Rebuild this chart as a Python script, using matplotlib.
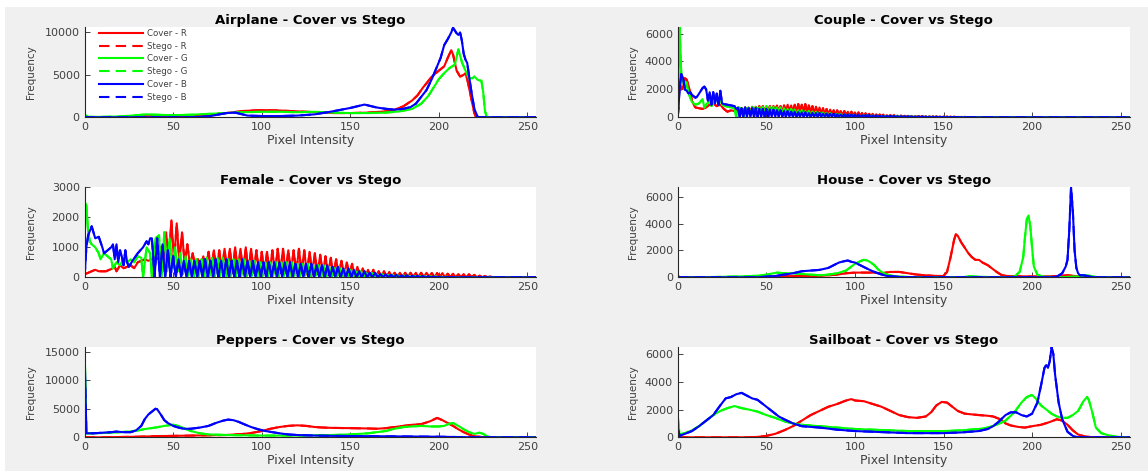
import numpy as np
import matplotlib
matplotlib.use('Agg')
import matplotlib.pyplot as plt
from matplotlib.patches import Rectangle

# ----------------------------------------------------------
# data: histogram curves as (bin, count)
# stego histograms sit on top of the cover ones at this scale
# ----------------------------------------------------------
airplane_r = [(0, 0), (20, 0), (30, 100), (40, 150), (50, 100), (60, 200), (70, 300), (80, 500), (90, 750),
              (100, 850), (110, 800), (120, 700), (130, 600), (140, 500), (150, 500), (160, 550), (170, 700),
              (175, 900), (180, 1300), (185, 2000), (188, 2600), (191, 3500), (193, 4000), (196, 4800),
              (200, 5500), (203, 6000), (205, 7000), (207, 7900), (208, 7400), (210, 5500), (212, 4800),
              (214, 5000), (215, 5200), (216, 4500), (218, 2500), (220, 500), (221, 0), (255, 0)]
airplane_g = [(0, 300), (2, 50), (10, 50), (20, 100), (30, 250), (35, 350), (40, 300), (50, 250), (60, 300),
              (70, 400), (80, 500), (90, 600), (100, 650), (110, 650), (120, 600), (130, 650), (140, 550),
              (150, 500), (160, 500), (170, 550), (178, 700), (185, 1000), (190, 1600), (194, 2500),
              (197, 3500), (200, 4500), (203, 5200), (206, 5800), (209, 6200), (211, 8000), (213, 6500),
              (215, 5500), (217, 4600), (219, 4600), (220, 4800), (222, 4400), (224, 4300), (225, 3000),
              (226, 800), (227, 0), (255, 0)]
airplane_b = [(0, 0), (60, 0), (70, 100), (75, 300), (80, 500), (85, 550), (88, 400), (92, 200), (100, 150),
              (110, 150), (120, 200), (130, 350), (140, 700), (145, 900), (150, 1100), (155, 1350),
              (158, 1500), (161, 1350), (165, 1150), (170, 1000), (175, 900), (180, 1000), (184, 1200),
              (187, 1600), (190, 2400), (193, 3200), (196, 4500), (199, 6000), (201, 7000), (203, 8500),
              (205, 9200), (207, 10000), (208, 10550), (210, 9900), (211, 9700), (212, 10000), (213, 9000),
              (214, 7500), (215, 6800), (216, 6400), (218, 3500), (220, 1000), (222, 0), (255, 0)]

couple_r_head = [(0, 0), (1, 2500), (2, 2000), (3, 2200), (4, 2800), (5, 2700), (6, 2300), (7, 1800),
                 (8, 1200), (9, 900), (10, 700), (12, 650), (14, 600), (16, 700), (18, 900), (20, 1000),
                 (22, 800), (24, 900), (26, 600), (28, 400), (30, 500), (32, 450)]
couple_r_peaks = [600, 650, 700, 700, 750, 750, 800, 800, 750, 800, 800, 850, 800, 850, 900,
                  850, 900, 950, 900, 950, 850, 800, 750, 700, 650, 600, 550, 500, 500, 450,
                  450, 400, 400, 350, 350, 300, 300, 250, 250, 200, 200, 200, 150, 150, 150,
                  120, 120, 100, 100, 100, 80, 80, 80, 70, 70, 60, 60, 50, 50, 50,
                  40, 40, 30, 30, 30, 20, 20, 20, 10, 10]
couple_r_troughs = [300, 350, 400, 400, 400, 450, 450, 450, 450, 450, 450, 450, 400, 400, 400,
                    400, 400, 400, 350, 350, 300, 300, 250, 250, 250, 200, 200, 200, 150, 150,
                    150, 120, 120, 100, 100, 100, 80, 80, 80, 60, 60, 50, 50, 40, 40,
                    40, 30, 30, 30, 20, 20, 20, 20, 10, 10, 10, 10, 10, 10, 5,
                    5, 5, 5, 5, 5, 0, 0, 0, 0, 0]
couple_g_head = [(0, 0), (1, 6450), (2, 3000), (3, 2600), (4, 2000), (5, 2500), (6, 1800), (7, 1400),
                 (8, 1100), (10, 900), (12, 1000), (14, 1300), (15, 700), (16, 900), (18, 1200), (19, 800),
                 (20, 1000), (22, 1300), (24, 1400), (25, 900), (27, 800), (30, 700), (32, 650), (33, 0),
                 (34, 700), (36, 650), (37, 0), (38, 600)]
couple_g_peaks = [700, 750, 750, 700, 750, 800, 750, 750, 700, 700, 650, 600, 600, 550, 500,
                  500, 450, 450, 400, 400, 350, 350, 300, 300, 250, 250, 250, 200, 200, 200,
                  180, 160, 150, 150, 140, 120, 120, 100, 100, 100, 90, 80, 80, 70, 70,
                  60, 60, 50, 50, 50, 40, 40, 40, 30, 30, 30, 20, 20, 20, 10,
                  10, 10, 10, 5, 5]
couple_g_troughs = [100, 200, 250, 300, 300, 300, 300, 300, 250, 250, 200, 200, 200, 150, 150,
                    150, 100, 100, 100, 100, 80, 80, 80, 60, 60, 60, 50, 50, 40, 40,
                    40, 30, 30, 30, 30, 20, 20, 20, 20, 20, 10, 10, 10, 10, 10,
                    10, 10, 10, 10, 10, 5, 5, 5, 5, 5, 5, 5, 5, 5, 0,
                    0, 0, 0, 0, 0]
couple_b_head = [(0, 0), (1, 2000), (2, 3100), (3, 2800), (4, 2000), (5, 1900), (6, 1700), (7, 1800),
                 (8, 1600), (9, 1500), (10, 1400), (11, 1500), (12, 1700), (13, 1900), (14, 2100),
                 (15, 2200), (16, 2000), (17, 1200), (18, 1800), (19, 900), (20, 1800), (21, 1000),
                 (22, 1700), (23, 900), (24, 1900), (25, 1000), (26, 950), (28, 900), (30, 850),
                 (32, 800), (33, 600)]
couple_b_peaks = [700, 650, 700, 650, 650, 650, 600, 600, 600, 550, 550, 500, 500, 450, 450,
                  400, 400, 350, 350, 350, 300, 300, 300, 300, 250, 250, 250, 250, 200, 200,
                  200, 200, 200, 180, 180, 150, 150, 150, 120, 120, 100, 100, 100, 100, 80,
                  80, 80, 60, 60, 60, 50, 50, 50, 40, 40, 40, 30, 30, 30, 20,
                  20, 20, 10, 10, 10]
couple_b_troughs = [0, 0, 0, 50, 0, 0, 50, 0, 0, 50, 50, 50, 50, 50, 50,
                    50, 50, 50, 50, 50, 40, 40, 40, 40, 40, 30, 30, 30, 30, 30,
                    20, 20, 20, 20, 20, 10, 10, 10, 10, 10, 10, 10, 10, 10, 10,
                    10, 10, 10, 10, 10, 0, 0, 0, 0, 0, 0, 0, 0, 0, 0,
                    0, 0, 0, 0, 0]

female_r_head = [(0, 100), (2, 150), (4, 200), (6, 250), (8, 200), (10, 200), (12, 200), (14, 250),
                 (16, 300), (17, 350), (18, 200), (20, 400), (22, 300), (24, 350), (26, 400), (28, 300),
                 (30, 500), (32, 550), (34, 600), (36, 550), (38, 600)]
female_r_peaks = [700, 1000, 1500, 1900, 1800, 1500, 1100, 800, 600, 700,
                  850, 900, 900, 950, 950, 1000, 950, 1000, 950, 900,
                  850, 850, 900, 950, 950, 900, 900, 950, 900, 850,
                  800, 750, 700, 650, 600, 550, 500, 450, 350, 300,
                  250, 250, 200, 200, 180, 150, 150, 150, 150, 150,
                  150, 150, 140, 140, 130, 120, 120, 100, 100, 100,
                  80, 60, 40, 30]
female_r_troughs = [600, 600, 500, 500, 500, 450, 400, 350, 300, 300,
                    250, 200, 200, 150, 150, 150, 150, 150, 150, 150,
                    150, 150, 150, 150, 150, 150, 150, 150, 100, 100,
                    100, 100, 80, 80, 80, 60, 60, 50, 50, 40,
                    40, 30, 30, 20, 20, 20, 10, 10, 10, 10,
                    10, 10, 10, 10, 10, 5, 5, 5, 5, 5,
                    0, 0, 0, 0]
female_g_head = [(0, 2500), (1, 2400), (2, 1500), (3, 1200), (4, 1100), (6, 1000), (8, 800), (9, 600),
                 (11, 800), (13, 700), (15, 600), (16, 300), (18, 500), (20, 400), (22, 600), (24, 500),
                 (26, 600), (28, 500), (30, 700), (32, 650), (33, 0), (35, 1000), (37, 800), (38, 0),
                 (40, 1300)]
female_g_peaks = [1400, 1500, 1300, 1000, 800, 700, 600, 600, 600, 650,
                  650, 650, 650, 600, 600, 600, 600, 550, 550, 500,
                  500, 500, 500, 500, 500, 500, 450, 450, 450, 400,
                  400, 400, 350, 300, 300, 250, 250, 200, 200, 150,
                  150, 100, 100, 80, 80, 60, 60, 50, 50, 40,
                  40, 30, 30, 20, 20]
female_g_troughs = [0, 200, 300, 200, 100, 50, 0, 50, 0, 50,
                    0, 50, 0, 50, 0, 50, 0, 50, 0, 50,
                    0, 50, 0, 50, 0, 50, 0, 50, 0, 50,
                    0, 20, 0, 20, 0, 0, 0, 0, 0, 0,
                    0, 0, 0, 0, 0, 0, 0, 0, 0, 0,
                    0, 0, 0, 0, 0]
female_b_head = [(0, 0), (1, 1000), (2, 1400), (4, 1700), (5, 1500), (6, 1300), (8, 1350), (10, 1000),
                 (11, 800), (13, 900), (15, 1000), (16, 1100), (17, 600), (18, 1100), (19, 500), (20, 900),
                 (21, 700), (22, 400), (23, 900), (24, 500), (25, 350), (27, 550), (30, 800), (33, 1000),
                 (35, 1200), (36, 1100), (37, 1300)]
female_b_peaks = [1300, 1300, 1100, 900, 700, 600, 550, 550, 550, 550,
                  600, 550, 600, 550, 600, 550, 550, 600, 550, 550,
                  500, 500, 500, 500, 500, 500, 500, 450, 450, 450,
                  450, 400, 400, 400, 350, 350, 300, 300, 250, 200,
                  200, 150, 150, 100, 100, 80, 80, 60, 60, 50,
                  40, 40, 30, 20, 20]
female_b_troughs = [0, 0, 0, 0, 0, 0, 0, 0, 0, 0,
                    0, 0, 0, 0, 0, 0, 0, 0, 0, 0,
                    0, 0, 0, 0, 0, 0, 0, 0, 0, 0,
                    0, 0, 0, 0, 0, 0, 0, 0, 0, 0,
                    0, 0, 0, 0, 0, 0, 0, 0, 0, 0,
                    0, 0, 0, 0, 0]

house_r = [(0, 0), (40, 0), (50, 20), (60, 80), (70, 100), (80, 100), (90, 200), (95, 300), (100, 350),
           (105, 350), (110, 350), (115, 300), (120, 400), (125, 400), (130, 300), (135, 200), (140, 150),
           (145, 100), (150, 100), (152, 400), (154, 1500), (156, 2800), (157, 3200), (158, 3100),
           (160, 2600), (162, 2200), (164, 1800), (166, 1500), (168, 1300), (170, 1300), (172, 1100),
           (175, 900), (178, 600), (180, 400), (183, 150), (186, 100), (190, 80), (200, 60), (210, 60),
           (215, 100), (220, 150), (224, 100), (228, 50), (232, 0), (255, 0)]
house_g = [(0, 150), (1, 0), (20, 20), (30, 50), (40, 80), (48, 150), (52, 250), (56, 350), (60, 300),
           (65, 300), (70, 250), (75, 200), (80, 150), (85, 200), (90, 300), (95, 500), (98, 800),
           (100, 1000), (103, 1200), (105, 1300), (107, 1250), (109, 1100), (111, 900), (113, 600),
           (115, 400), (118, 200), (122, 80), (130, 20), (140, 0), (160, 0), (165, 80), (168, 50),
           (175, 20), (185, 0), (190, 50), (193, 400), (195, 1500), (196, 3000), (197, 4300), (198, 4600),
           (199, 3800), (200, 2200), (201, 800), (203, 200), (206, 50), (215, 0), (225, 50), (230, 150),
           (233, 100), (236, 30), (240, 0), (255, 0)]
house_b = [(0, 0), (45, 0), (50, 50), (55, 100), (60, 200), (65, 300), (70, 450), (75, 500), (80, 550),
           (85, 700), (88, 900), (91, 1100), (94, 1200), (96, 1250), (98, 1150), (100, 1100), (103, 900),
           (106, 700), (110, 450), (114, 250), (118, 100), (125, 30), (130, 0), (210, 0), (214, 50),
           (217, 300), (219, 800), (220, 1300), (221, 3500), (222, 6700), (223, 5000), (224, 2000),
           (225, 700), (226, 300), (227, 150), (229, 150), (231, 100), (234, 20), (237, 0), (255, 0)]

peppers_r = [(0, 0), (10, 0), (20, 50), (30, 100), (40, 200), (50, 250), (60, 300), (70, 350), (80, 400),
             (90, 600), (95, 800), (100, 1100), (105, 1500), (110, 1800), (115, 2000), (120, 2100),
             (125, 2000), (130, 1800), (135, 1700), (140, 1650), (150, 1600), (160, 1550), (165, 1500),
             (170, 1600), (175, 1800), (180, 2000), (185, 2200), (190, 2300), (195, 2800), (199, 3400),
             (202, 3000), (205, 2500), (208, 2000), (211, 1400), (214, 900), (217, 500), (220, 200),
             (224, 50), (228, 0), (255, 0)]
peppers_g = [(0, 15770), (1, 700), (5, 700), (10, 750), (15, 800), (20, 900), (25, 1000), (30, 1200),
             (35, 1500), (40, 1700), (45, 2000), (50, 2200), (53, 2000), (56, 1600), (60, 1100), (65, 700),
             (70, 500), (80, 400), (90, 350), (100, 300), (110, 300), (120, 300), (130, 350), (140, 400),
             (150, 500), (160, 700), (170, 1100), (175, 1500), (180, 1800), (185, 1900), (190, 2000),
             (195, 1900), (200, 1900), (203, 2000), (206, 2400), (208, 2500), (211, 2000), (214, 1400),
             (217, 900), (220, 600), (223, 800), (225, 600), (227, 200), (230, 0), (255, 0)]
peppers_b = [(0, 14500), (1, 700), (5, 700), (10, 800), (15, 900), (18, 1000), (22, 900), (26, 900),
             (29, 1200), (32, 2000), (34, 3200), (36, 4000), (38, 4500), (40, 5000), (41, 4900), (43, 4000),
             (45, 3000), (47, 2500), (50, 2000), (53, 1700), (56, 1500), (60, 1500), (65, 1700), (70, 2000),
             (74, 2500), (78, 2900), (81, 3100), (84, 3000), (87, 2700), (90, 2300), (94, 1800), (98, 1400),
             (102, 1100), (106, 900), (110, 700), (115, 500), (120, 400), (130, 300), (140, 250), (160, 200),
             (180, 150), (200, 100), (210, 50), (220, 0), (255, 0)]

sailboat_r = [(0, 0), (40, 0), (45, 30), (50, 100), (55, 250), (60, 500), (65, 800), (70, 1200), (75, 1600),
              (80, 1900), (85, 2200), (90, 2400), (95, 2650), (98, 2750), (100, 2650), (105, 2600),
              (110, 2400), (115, 2200), (120, 1900), (125, 1600), (130, 1450), (135, 1400), (140, 1500),
              (143, 1800), (146, 2300), (149, 2550), (152, 2500), (155, 2200), (158, 1900), (162, 1700),
              (166, 1650), (170, 1600), (175, 1550), (178, 1500), (182, 1300), (185, 1000), (188, 850),
              (192, 750), (196, 700), (200, 800), (205, 900), (210, 1100), (214, 1300), (217, 1200),
              (220, 900), (223, 500), (226, 200), (230, 50), (235, 0), (255, 0)]
sailboat_g = [(0, 1500), (1, 200), (4, 300), (8, 500), (12, 800), (16, 1200), (20, 1600), (24, 1900),
              (28, 2100), (32, 2250), (36, 2100), (40, 2000), (45, 1850), (50, 1600), (55, 1400), (60, 1150),
              (65, 1000), (70, 900), (80, 800), (90, 700), (100, 600), (110, 550), (120, 500), (130, 450),
              (140, 450), (150, 450), (160, 500), (170, 600), (175, 700), (180, 900), (185, 1200),
              (190, 1800), (194, 2500), (197, 2900), (200, 3050), (202, 2800), (205, 2300), (208, 2000),
              (211, 1700), (214, 1500), (217, 1400), (220, 1400), (223, 1600), (226, 1900), (229, 2600),
              (231, 2900), (232, 2700), (234, 1800), (236, 700), (239, 300), (243, 150), (248, 30), (255, 0)]
sailboat_b = [(0, 650), (1, 100), (4, 250), (8, 450), (12, 800), (16, 1200), (20, 1600), (24, 2300),
              (27, 2800), (30, 2900), (33, 3100), (36, 3200), (39, 3000), (42, 2800), (45, 2700), (48, 2400),
              (51, 2100), (54, 1800), (57, 1500), (60, 1300), (65, 1000), (70, 800), (80, 700), (90, 550),
              (100, 450), (110, 400), (120, 350), (130, 300), (140, 300), (150, 300), (160, 350), (170, 450),
              (175, 600), (178, 800), (181, 1100), (185, 1600), (188, 1800), (191, 1800), (194, 1600),
              (197, 1500), (200, 1700), (203, 2500), (205, 3700), (207, 5000), (208, 5200), (209, 5000),
              (210, 5500), (211, 6480), (212, 6000), (213, 4500), (215, 2500), (217, 1300), (220, 400),
              (223, 100), (226, 0), (255, 0)]

titles = ['Airplane', 'Couple', 'Female', 'House', 'Peppers', 'Sailboat']
ymax = [10600, 6450, 3000, 6700, 15770, 6480]
yticks = [[0, 5000, 10000], [0, 2000, 4000, 6000], [0, 1000, 2000, 3000],
          [0, 2000, 4000, 6000], [0, 5000, 10000, 15000], [0, 2000, 4000, 6000]]
xticks = [0, 50, 100, 150, 200, 250]


# ----------------------------------------------------------
# functions
# ----------------------------------------------------------
def curve(head, start=None, step=None, peaks=(), troughs=()):
    xs = [p[0] for p in head]
    ys = [p[1] for p in head]
    for i, (pk, tr) in enumerate(zip(peaks, troughs)):
        x = start + i * step
        xs += [x, x + step / 2]
        ys += [pk, tr]
    xs += [xs[-1] + 3, 255]
    ys += [0, 0]
    return xs, ys


def pts(lst):
    return [p[0] for p in lst], [p[1] for p in lst]


curves = {
    'Airplane': [pts(airplane_r), pts(airplane_g), pts(airplane_b)],
    'Couple': [curve(couple_r_head, 34, 2, couple_r_peaks, couple_r_troughs),
               curve(couple_g_head, 40, 2, couple_g_peaks, couple_g_troughs),
               curve(couple_b_head, 34, 2, couple_b_peaks, couple_b_troughs)],
    'Female': [curve(female_r_head, 40, 3, female_r_peaks, female_r_troughs),
               curve(female_g_head, 42, 3, female_g_peaks, female_g_troughs),
               curve(female_b_head, 38, 3, female_b_peaks, female_b_troughs)],
    'House': [pts(house_r), pts(house_g), pts(house_b)],
    'Peppers': [pts(peppers_r), pts(peppers_g), pts(peppers_b)],
    'Sailboat': [pts(sailboat_r), pts(sailboat_g), pts(sailboat_b)],
}

# ----------------------------------------------------------
# main
# ----------------------------------------------------------
W, H = 1148, 473
fig = plt.figure(figsize=(W / 100, H / 100), dpi=100, facecolor='white')
fig.patches.append(Rectangle((5 / W, 2 / H), 1 - 5 / W, 1 - 9 / H, transform=fig.transFigure,
                             facecolor='#f0f0f0', edgecolor='none', zorder=-10))

lefts = [84.6 / W, 677.8 / W]
bottoms = [1 - 117.3 / H, 1 - 277.3 / H, 1 - 437.3 / H]
aw, ah = 451.7 / W, 90 / H
ylab_x = [-0.108, -0.088]

colors = ['#ff0000', '#00ff00', '#0000ff']
chan = ['R', 'G', 'B']

for k, name in enumerate(titles):
    row, col = k // 2, k % 2
    ax = fig.add_axes([lefts[col], bottoms[row], aw, ah])
    for (x, y), c, ch in zip(curves[name], colors, chan):
        ax.plot(x, y, color=c, lw=1.5, label='Cover - ' + ch)
        ax.plot(x, y, color=c, lw=1.5, ls='--', dashes=(5, 3), label='Stego - ' + ch)
    ax.set_xlim(0, 255)
    ax.set_ylim(0, ymax[k])
    ax.set_xticks(xticks)
    ax.set_yticks(yticks[k])
    for s in ['top', 'right']:
        ax.spines[s].set_visible(False)
    for s in ['left', 'bottom']:
        ax.spines[s].set_color('#262626')
        ax.spines[s].set_linewidth(0.8)
    ax.tick_params(direction='in', length=3.5, width=0.6, colors='#262626', labelsize=8,
                   labelcolor='#404040', pad=3.5)
    ax.set_title(name + ' - Cover vs Stego', fontsize=9.5, fontweight='bold', pad=2)
    ax.set_xlabel('Pixel Intensity', fontsize=9, color='#404040', labelpad=1)
    ax.set_ylabel('Frequency', fontsize=7.5, color='#404040')
    ax.yaxis.set_label_coords(ylab_x[col], 0.5)
    if k == 0:
        ax.legend(loc='upper left', bbox_to_anchor=(0.031, 0.985), frameon=False, fontsize=6.2,
                  handlelength=5.2, handletextpad=0.45, labelspacing=0.45, borderpad=0,
                  borderaxespad=0, labelcolor='#404040')

fig.savefig('out.png', dpi=100, facecolor=fig.get_facecolor())
